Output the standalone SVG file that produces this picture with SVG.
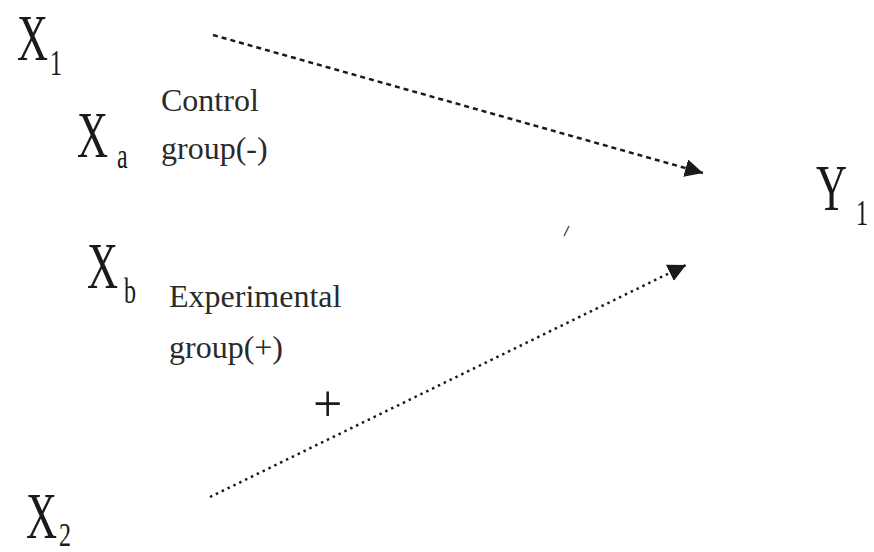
<svg xmlns="http://www.w3.org/2000/svg" width="874" height="552" viewBox="0 0 874 552">
<defs>
<style>
.v{font-family:"Liberation Serif","Times New Roman",serif;fill:#1a1a1a;}
.big{font-size:43px;}
.sub{font-size:24px;}
.lbl{font-family:"Liberation Serif","Times New Roman",serif;fill:#2a2a2a;font-size:32px;}
.con{fill:none;stroke:#1a1a1a;stroke-width:2.5;}
</style>
<marker id="ah" viewBox="0 0 10 10" refX="10" refY="5" markerWidth="18" markerHeight="18" markerUnits="userSpaceOnUse" orient="auto">
<path d="M0,0 L10,5 L0,10 Z" fill="#1a1a1a"/>
</marker>
</defs>
<rect width="874" height="552" fill="#ffffff"/>
<g id="connectors">
<line class="con" x1="213" y1="35" x2="703" y2="173" stroke-dasharray="5 4" marker-end="url(#ah)"/>
<line class="con" x1="210" y1="497" x2="686" y2="265" stroke-dasharray="2.5 4" marker-end="url(#ah)"/>
<line x1="564" y1="236" x2="569" y2="226" stroke="#555" stroke-width="1.5"/>
</g>
<g id="X1">
<text class="v big" transform="translate(17,60) scale(1,1.5)">X</text>
<text class="v sub" transform="translate(50,75) scale(1,1.5)">1</text>
</g>
<g id="Xa">
<text class="v big" transform="translate(77,157) scale(1,1.5)">X</text>
<text class="v sub" transform="translate(117,168) scale(1,1.5)">a</text>
</g>
<g id="control">
<text class="lbl" x="161" y="111">Control</text>
<text class="lbl" x="161" y="159">group(-)</text>
</g>
<g id="Xb">
<text class="v big" transform="translate(87,288) scale(1,1.5)">X</text>
<text class="v sub" transform="translate(124,303) scale(1,1.5)">b</text>
</g>
<g id="experimental">
<text class="lbl" x="169" y="307">Experimental</text>
<text class="lbl" x="169" y="358">group(+)</text>
</g>
<g id="plus">
<text class="v" style="font-size:52px" x="313" y="421">+</text>
</g>
<g id="X2">
<text class="v big" transform="translate(26,538) scale(1,1.5)">X</text>
<text class="v sub" transform="translate(59,546) scale(1,1.4)">2</text>
</g>
<g id="Y1">
<text class="v big" transform="translate(816,210) scale(1,1.5)">Y</text>
<text class="v sub" transform="translate(856,225) scale(1,1.5)">1</text>
</g>
</svg>
